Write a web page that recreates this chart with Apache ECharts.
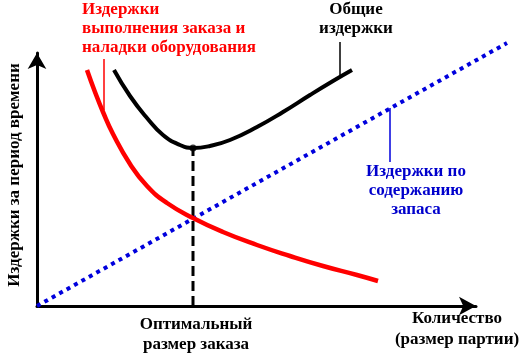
<!DOCTYPE html>
<html><head><meta charset="utf-8">
<script src="https://cdn.jsdelivr.net/npm/echarts@6/dist/echarts.min.js"></script>
<style>html,body{margin:0;padding:0;background:#fff}#c{width:525px;height:358px}</style>
</head><body><div id="c"></div>
<script>
// Values (quantity units, cost units)
const orderingQ = [50, 58, 66, 76, 93, 110, 130, 156, 186, 220, 253, 286, 320, 341];
const orderingCost = [236, 214, 194, 172, 142, 120, 103, 88, 74, 61, 50, 40, 31, 25];
const totalQ = [77, 93, 110, 126, 143, 156, 173, 193, 220, 246, 273, 296, 315];
const totalCost = [236, 210, 188, 171, 161, 158, 160, 166, 179, 194, 211, 225, 236];
const holdingQ = [0, 470];
const holdingCost = [0, 263];
const optimalQ = 156;
const minTotalCost = 158;
const leaderRed = [[67, 247], [67, 196]];
const leaderBlack = [[303, 264], [303, 231]];
const leaderBlue = [[353, 198], [353, 144]];

const labelOrdering = ['Издержки', 'выполнения заказа и', 'наладки оборудования'];
const labelTotal = ['Общие', 'издержки'];
const labelHolding = ['Издержки по', 'содержанию', 'запаса'];
const labelOptimal = ['Оптимальный', 'размер заказа'];
const labelXAxis = ['Количество', '(размер партии)'];
const labelYAxis = 'Издержки за период времени';

const zip = (a, b) => a.map((v, i) => [v, b[i]]);
const font = {fontFamily: 'Liberation Serif', fontWeight: 'bold', fontSize: 17};

function textLines(lines, x, y0, step, color, align) {
  return lines.map((t, i) => ({
    type: 'text', x: x, y: y0 + i * step, silent: true,
    style: Object.assign({text: t, fill: color, align: align, verticalAlign: 'middle'}, font)
  }));
}
const hidden = {axisLine: {show: false}, axisTick: {show: false}, axisLabel: {show: false}, splitLine: {show: false}};

const chart = echarts.init(document.getElementById('c'), null, {renderer: 'canvas'});
chart.setOption({
  animation: false,
  backgroundColor: '#fff',
  grid: [
    {left: 37, right: 15, top: 53, bottom: 52},
    {left: 37, right: 49, top: 53, bottom: 52}
  ],
  xAxis: [
    Object.assign({type: 'value', min: 0, max: 473, gridIndex: 0}, hidden),
    {
      type: 'value', min: 0, max: 439, gridIndex: 1,
      axisLine: {show: true, lineStyle: {color: '#000', width: 3}, symbol: ['none', 'arrow'], symbolSize: [14, 17]},
      axisTick: {show: false}, axisLabel: {show: false}, splitLine: {show: false}
    }
  ],
  yAxis: [
    {
      type: 'value', min: 0, max: 253, gridIndex: 0,
      axisLine: {show: true, lineStyle: {color: '#000', width: 3}, symbol: ['none', 'arrow'], symbolSize: [14, 16]},
      axisTick: {show: false}, axisLabel: {show: false}, splitLine: {show: false}
    },
    Object.assign({type: 'value', min: 0, max: 253, gridIndex: 1}, hidden)
  ],
  series: [
    {type: 'line', data: zip(holdingQ, holdingCost), clip: false, symbol: 'none',
     lineStyle: {color: '#0000dd', width: 4, type: [4, 4.5]}, z: 3},
    {type: 'line', data: [[optimalQ, 0], [optimalQ, minTotalCost]], clip: false, symbol: 'none',
     lineStyle: {color: '#000', width: 3, type: [10, 5]}, z: 2},
    {type: 'line', data: zip(orderingQ, orderingCost), clip: false, symbol: 'none', smooth: true,
     lineStyle: {color: '#ff0000', width: 4.5}, z: 4},
    {type: 'line', data: zip(totalQ, totalCost), clip: false, symbol: 'none', smooth: true,
     lineStyle: {color: '#000', width: 4}, z: 4},
    {type: 'scatter', data: [[optimalQ, minTotalCost]], symbol: 'circle', symbolSize: 7,
     itemStyle: {color: '#000'}, z: 5},
    {type: 'line', data: leaderRed, clip: false, symbol: 'none', lineStyle: {color: '#ff0000', width: 1.5}},
    {type: 'line', data: leaderBlack, clip: false, symbol: 'none', lineStyle: {color: '#000', width: 1.5}},
    {type: 'line', data: leaderBlue, clip: false, symbol: 'none', lineStyle: {color: '#0000dd', width: 1.5}}
  ],
  graphic: [].concat(
    textLines(labelOrdering, 82, 10, 19, '#ff0000', 'left'),
    textLines(labelTotal, 356, 10, 19, '#000', 'center'),
    textLines(labelHolding, 416, 172, 19, '#0000cc', 'center'),
    textLines(labelOptimal, 196, 325, 19.5, '#000', 'center'),
    textLines(labelXAxis, 457, 319, 21, '#000', 'center'),
    [{type: 'text', x: 15, y: 175, rotation: Math.PI / 2, silent: true,
      style: Object.assign({text: labelYAxis, fill: '#000', align: 'center', verticalAlign: 'middle'}, font)}]
  )
});
</script></body></html>
